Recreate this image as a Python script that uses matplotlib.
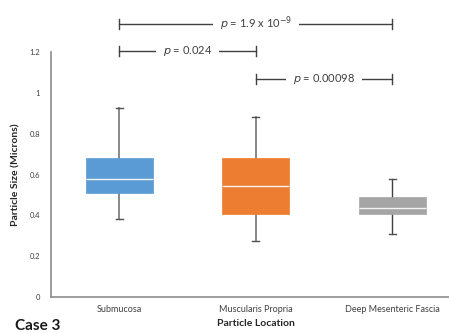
import matplotlib
matplotlib.use("Agg")
import matplotlib.pyplot as plt

categories = ["Submucosa", "Muscularis Propria", "Deep Mesenteric Fascia"]
whislo = [0.38, 0.275, 0.31]
q1 = [0.51, 0.407, 0.407]
med = [0.577, 0.545, 0.435]
q3 = [0.68, 0.68, 0.489]
whishi = [0.926, 0.88, 0.578]
colors = ["#5B9BD5", "#ED7D31", "#A5A5A5"]
yticks = [0, 0.2, 0.4, 0.6, 0.8, 1, 1.2]
ytick_labels = ["0", "0.2", "0.4", "0.6", "0.8", "1", "1.2"]
comparisons = [(1, 3, 1.338, r"$p$ = 1.9 x 10$^{-9}$"),
               (1, 2, 1.206, r"$p$ = 0.024"),
               (2, 3, 1.069, r"$p$ = 0.00098")]

plt.rcParams['font.family'] = ['Lato', 'DejaVu Sans']
fig = plt.figure(figsize=(4.49, 3.33), dpi=100)
ax = fig.add_axes([51/449, 36/333, 409.5/449, 245/333])

stats = []
for i in range(3):
    stats.append(dict(whislo=whislo[i], q1=q1[i], med=med[i], q3=q3[i],
                      whishi=whishi[i], fliers=[], label=categories[i]))
bp = ax.bxp(stats, positions=[1, 2, 3], widths=0.49, patch_artist=True,
            showfliers=False)
for i, b in enumerate(bp['boxes']):
    b.set_facecolor(colors[i])
    b.set_edgecolor(colors[i])
    b.set_linewidth(0.5)
    b.set_zorder(3)
for m in bp['medians']:
    m.set_color("#f3f3f3")
    m.set_linewidth(1.0)
    m.set_zorder(4)
for i, w in enumerate(bp['whiskers']):
    w.set_color("#7f7f7f" if i < 4 else "#404040")
    w.set_linewidth(1.3 if i < 4 else 1.0)
for i, c in enumerate(bp['caps']):
    c.set_color("#505050")
    c.set_linewidth(1.0)
    xs = c.get_xdata()
    mid = (xs[0] + xs[1]) / 2
    c.set_xdata([mid - 0.025, mid + 0.025])

ax.set_xlim(0.5, 3.5)
ax.set_ylim(0, 1.2)
ax.set_yticks(yticks)
ax.set_yticklabels(ytick_labels, fontsize=5.5, color="#404040")
ax.set_xticks([1, 2, 3])
ax.set_xticklabels(categories, fontsize=6.5, color="#404040")
ax.tick_params(length=0, pad=8)
ax.tick_params(axis='x', pad=6)
for s in ['top', 'right']:
    ax.spines[s].set_visible(False)
for s in ['left', 'bottom']:
    ax.spines[s].set_color("#8c8c8c")
    ax.spines[s].set_linewidth(1.2)

ax.set_xlabel("Particle Location", fontsize=7.5, fontweight='bold', color="#262626", labelpad=3)
ax.set_ylabel("Particle Size (Microns)", fontsize=7.5, fontweight='bold', color="#262626", labelpad=6)

for x1, x2, y, label in comparisons:
    ax.plot([x1, x2], [y, y], color="#404040", lw=1.0, clip_on=False)
    for xx in (x1, x2):
        ax.plot([xx, xx], [y - 0.025, y + 0.025], color="#404040", lw=1.0, clip_on=False)
    ax.text((x1 + x2) / 2, y, label, ha='center', va='center', fontsize=8,
            color="#404040", clip_on=False,
            bbox=dict(facecolor='white', edgecolor='none', pad=5))

fig.text(15/449, 1 - 326/333, "Case 3", fontsize=11, fontweight='bold',
         color="#1a1a1a", ha='left', va='center')

fig.savefig("out.png", dpi=100)
